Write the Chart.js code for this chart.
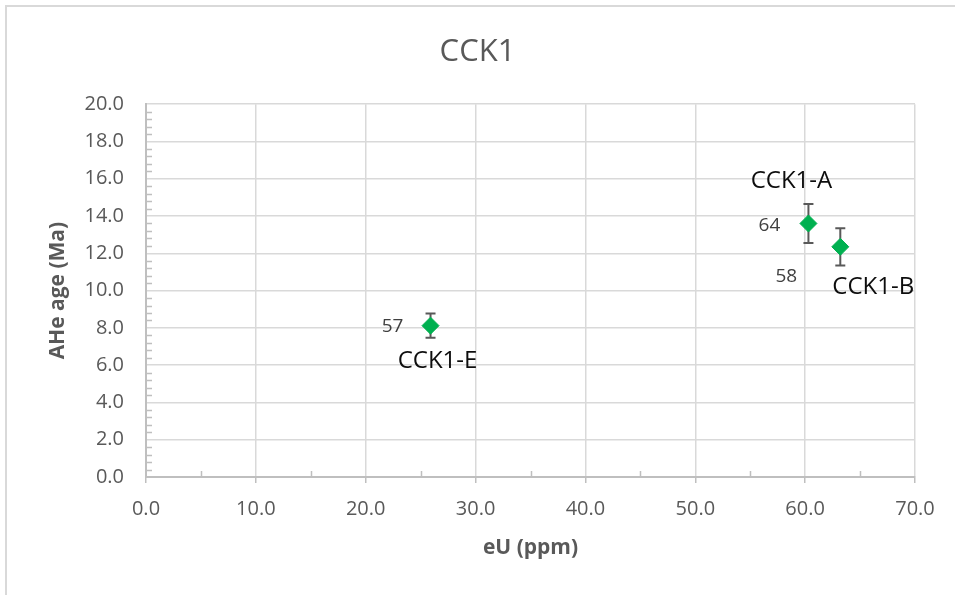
<!DOCTYPE html>
<html>
<head>
<meta charset="utf-8">
<title>CCK1</title>
<script src="https://cdn.jsdelivr.net/npm/chart.js@4.4.1/dist/chart.umd.min.js"></script>
<style>
  html, body { margin: 0; padding: 0; background: #fff; }
  canvas { display: block; }
</style>
</head>
<body>
<canvas id="ahe" width="955" height="595"></canvas>
<script>
// sample data
const sampleNames = ['CCK1-A', 'CCK1-B', 'CCK1-E'];
const eU = [60.3, 63.2, 25.9];
const ageMa = [13.6, 12.35, 8.12];
const ageErr = [1.05, 1.0, 0.65];
const grainLabels = ['64', '58', '57'];

const xMin = 0, xMax = 70, xStep = 10, xMinor = 5;
const yMin = 0, yMax = 20, yStep = 2, yMinor = 0.4;

const FONT = "'Open Sans', 'Noto Sans', sans-serif";
const GREY = '#595959';
const AXIS = '#bfbfbf';
const GRID = '#d9d9d9';

// where the text labels sit relative to each point (px)
const nameOffsets = [[-17, -42], [33, 40], [7, 36]];
const countOffsets = [[-39, 2], [-54, 30], [-38, 1]];

const frame = {
  id: 'frame',
  beforeDraw(chart) {
    const ctx = chart.ctx;
    ctx.save();
    ctx.strokeStyle = GRID;
    ctx.lineWidth = 2;
    ctx.strokeRect(6, 6, chart.width + 20, chart.height + 20);
    ctx.restore();
  }
};

const minorTicks = {
  id: 'minorTicks',
  afterDraw(chart) {
    const ctx = chart.ctx;
    const xs = chart.scales.x, ys = chart.scales.y;
    const area = chart.chartArea;
    ctx.save();
    ctx.strokeStyle = AXIS;
    ctx.lineWidth = 1.5;
    ctx.beginPath();
    for (let v = yMin + yMinor; v < yMax - 1e-6; v += yMinor) {
      if (Math.abs(v / yStep - Math.round(v / yStep)) < 1e-6) continue;
      const py = Math.round(ys.getPixelForValue(v)) + 0.5;
      ctx.moveTo(area.left, py);
      ctx.lineTo(area.left + 6, py);
    }
    for (let v = xMin + xMinor; v < xMax; v += xMinor) {
      if (v % xStep === 0) continue;
      const px = Math.round(xs.getPixelForValue(v)) + 0.5;
      ctx.moveTo(px, area.bottom);
      ctx.lineTo(px, area.bottom - 6);
    }
    ctx.stroke();
    ctx.restore();
  }
};

const errorBars = {
  id: 'errorBars',
  beforeDatasetsDraw(chart) {
    const ctx = chart.ctx;
    const xs = chart.scales.x, ys = chart.scales.y;
    ctx.save();
    ctx.strokeStyle = GREY;
    ctx.lineWidth = 2;
    ctx.beginPath();
    eU.forEach((x, i) => {
      const px = xs.getPixelForValue(x);
      const top = ys.getPixelForValue(ageMa[i] + ageErr[i]);
      const bot = ys.getPixelForValue(ageMa[i] - ageErr[i]);
      ctx.moveTo(px, top); ctx.lineTo(px, bot);
      ctx.moveTo(px - 5, top); ctx.lineTo(px + 5, top);
      ctx.moveTo(px - 5, bot); ctx.lineTo(px + 5, bot);
    });
    ctx.stroke();
    ctx.restore();
  }
};

const pointLabels = {
  id: 'pointLabels',
  afterDatasetsDraw(chart) {
    const ctx = chart.ctx;
    const xs = chart.scales.x, ys = chart.scales.y;
    ctx.save();
    ctx.textAlign = 'center';
    ctx.textBaseline = 'middle';
    eU.forEach((x, i) => {
      const px = xs.getPixelForValue(x);
      const py = ys.getPixelForValue(ageMa[i]);
      ctx.fillStyle = '#404040';
      ctx.font = '19px ' + FONT;
      ctx.fillText(grainLabels[i], px + countOffsets[i][0], py + countOffsets[i][1]);
      ctx.fillStyle = '#0d0d0d';
      ctx.font = '24px ' + FONT;
      ctx.fillText(sampleNames[i], px + nameOffsets[i][0], py + nameOffsets[i][1]);
    });
    ctx.restore();
  }
};

new Chart(document.getElementById('ahe'), {
  type: 'scatter',
  data: {
    datasets: [{
      label: 'CCK1',
      data: eU.map((x, i) => ({ x: x, y: ageMa[i] })),
      pointStyle: 'rectRot',
      pointRadius: 8.5,
      pointHoverRadius: 8.5,
      backgroundColor: '#00b050',
      borderColor: '#00b050',
      borderWidth: 1
    }]
  },
  options: {
    responsive: false,
    animation: false,
    devicePixelRatio: 1,
    layout: { padding: { left: 40, right: 40, top: 0, bottom: 0 } },
    plugins: {
      legend: { display: false },
      tooltip: { enabled: false },
      title: {
        display: true,
        text: 'CCK1',
        color: GREY,
        font: { family: FONT, size: 31, weight: 'normal' },
        padding: { top: 34, bottom: 33 }
      }
    },
    scales: {
      x: {
        type: 'linear',
        min: xMin, max: xMax,
        afterFit(scale) { scale.height = 118; },
        ticks: {
          stepSize: xStep,
          padding: 14,
          color: GREY,
          font: { family: FONT, size: 20 },
          callback: v => v.toFixed(1)
        },
        grid: { color: GRID, lineWidth: 1.5, tickLength: 6, tickColor: AXIS, tickWidth: 1.5 },
        border: { color: AXIS, width: 2 },
        title: {
          display: true,
          text: 'eU (ppm)',
          color: GREY,
          font: { family: FONT, size: 21, weight: 'bold' },
          padding: { top: 0, bottom: 34 }
        }
      },
      y: {
        type: 'linear',
        min: yMin, max: yMax,
        afterFit(scale) { scale.width = 106; },
        ticks: {
          stepSize: yStep,
          padding: 22,
          color: GREY,
          font: { family: FONT, size: 20 },
          callback: v => v.toFixed(1)
        },
        grid: { color: GRID, lineWidth: 1.5, drawTicks: false },
        border: { color: AXIS, width: 2 },
        title: {
          display: true,
          text: 'AHe age (Ma)',
          color: GREY,
          font: { family: FONT, size: 21, weight: 'bold' },
          padding: { top: 5, bottom: 0 }
        }
      }
    }
  },
  plugins: [frame, errorBars, pointLabels, minorTicks]
});
</script>
</body>
</html>
